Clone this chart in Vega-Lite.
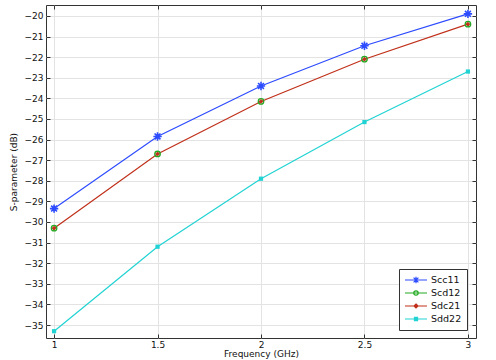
{
  "$schema": "https://vega.github.io/schema/vega-lite/v6.json",
  "width": 430,
  "height": 333,
  "autosize": "none",
  "padding": {"left": 46, "top": 5, "right": 20, "bottom": 22},
  "background": "white",
  "config": {
    "font": "DejaVu Sans",
    "view": {"stroke": "#333", "strokeWidth": 1},
    "axis": {"labelFontSize": 9, "titleFontSize": 9, "labelColor": "#111", "titleColor": "#111", "titleFontWeight": "normal", "domain": false, "tickColor": "#333", "gridColor": "#e3e3e3"}
  },
  "datasets": {"d": [
    {"f": 1, "s": "Scc11", "v": -29.35},
    {"f": 1.5, "s": "Scc11", "v": -25.85},
    {"f": 2, "s": "Scc11", "v": -23.4},
    {"f": 2.5, "s": "Scc11", "v": -21.45},
    {"f": 3, "s": "Scc11", "v": -19.9},
    {"f": 1, "s": "Scd12", "v": -30.3},
    {"f": 1.5, "s": "Scd12", "v": -26.7},
    {"f": 2, "s": "Scd12", "v": -24.15},
    {"f": 2.5, "s": "Scd12", "v": -22.1},
    {"f": 3, "s": "Scd12", "v": -20.4},
    {"f": 1, "s": "Sdc21", "v": -30.3},
    {"f": 1.5, "s": "Sdc21", "v": -26.7},
    {"f": 2, "s": "Sdc21", "v": -24.15},
    {"f": 2.5, "s": "Sdc21", "v": -22.1},
    {"f": 3, "s": "Sdc21", "v": -20.4},
    {"f": 1, "s": "Sdd22", "v": -35.3},
    {"f": 1.5, "s": "Sdd22", "v": -31.2},
    {"f": 2, "s": "Sdd22", "v": -27.9},
    {"f": 2.5, "s": "Sdd22", "v": -25.15},
    {"f": 3, "s": "Sdd22", "v": -22.7}
  ]},
  "data": {"name": "d"},
  "layer": [
    {
      "transform": [{"filter": "datum.s !== 'Scd12'"}],
      "mark": {"type": "line", "strokeWidth": 1.2},
      "encoding": {
        "x": {"field": "f", "type": "quantitative", "scale": {"domain": [0.961, 3.039], "nice": false, "zero": false},
          "axis": {"title": "Frequency (GHz)", "format": "~g", "values": [1, 1.5, 2, 2.5, 3], "tickSize": -4, "labelPadding": 6, "titlePadding": 0, "labelFlush": false}},
        "y": {"field": "v", "type": "quantitative", "scale": {"domain": [-35.63, -19.47], "nice": false, "zero": false},
          "axis": {"title": "S-parameter (dB)", "values": [-35,-34,-33,-32,-31,-30,-29,-28,-27,-26,-25,-24,-23,-22,-21,-20], "tickSize": -4, "labelPadding": 7, "titlePadding": 6}},
        "color": {"field": "s", "type": "nominal",
          "scale": {"domain": ["Scc11", "Scd12", "Sdc21", "Sdd22"], "range": ["#2d4bff", "#22aa22", "#c0301a", "#22d3d3"]},
          "legend": {
            "title": null, "orient": "none", "legendX": 353, "legendY": 264,
            "fillColor": "white", "strokeColor": "#333", "padding": 5, "cornerRadius": 0,
            "labelFontSize": 9.5, "labelColor": "#111", "symbolSize": 484, "rowPadding": 1, "labelOffset": 3, "clipHeight": 12,
            "symbolType": "stroke",
            "encode": {"symbols": {"update": {
              "shape": {"signal": "datum.value === 'Scc11' ? 'M-1,0L1,0M-0.3,0L0.3,0M0,-0.3L0,0.3M-0.22,-0.22L0.22,0.22M-0.22,0.22L0.22,-0.22' : datum.value === 'Scd12' ? 'M-1,0L1,0M0.2,0A0.2,0.2,0,1,1,-0.2,0A0.2,0.2,0,1,1,0.2,0' : datum.value === 'Sdc21' ? 'M-1,0L1,0M0,-0.18L0.18,0L0,0.18L-0.18,0Z' : 'M-1,0L1,0M-0.14,-0.14L0.14,-0.14L0.14,0.14L-0.14,0.14Z'"},
              "fill": {"signal": "datum.value === 'Sdc21' ? '#c0301a' : datum.value === 'Sdd22' ? '#22d3d3' : 'transparent'"},
              "strokeWidth": {"value": 1.2}
            }}}
          }}
      }
    },
    {
      "transform": [{"filter": "datum.s === 'Scc11'"}],
      "mark": {"type": "point", "shape": "M-1,0L1,0M0,-1L0,1M-0.7,-0.7L0.7,0.7M-0.7,0.7L0.7,-0.7", "size": 70, "stroke": "#2d4bff", "strokeWidth": 1.6, "filled": false, "opacity": 1},
      "encoding": {"x": {"field": "f", "type": "quantitative", "axis": null}, "y": {"field": "v", "type": "quantitative", "axis": null}}
    },
    {
      "transform": [{"filter": "datum.s === 'Scd12'"}],
      "mark": {"type": "point", "shape": "circle", "size": 30, "stroke": "#22aa22", "strokeWidth": 1.3, "filled": false, "opacity": 1},
      "encoding": {"x": {"field": "f", "type": "quantitative", "axis": null}, "y": {"field": "v", "type": "quantitative", "axis": null}}
    },
    {
      "transform": [{"filter": "datum.s === 'Sdc21'"}],
      "mark": {"type": "point", "shape": "diamond", "size": 14, "fill": "#c0301a", "stroke": "#c0301a", "strokeWidth": 1, "filled": true, "opacity": 1},
      "encoding": {"x": {"field": "f", "type": "quantitative", "axis": null}, "y": {"field": "v", "type": "quantitative", "axis": null}}
    },
    {
      "transform": [{"filter": "datum.s === 'Sdd22'"}],
      "mark": {"type": "point", "shape": "square", "size": 18, "fill": "#22d3d3", "filled": true, "opacity": 1},
      "encoding": {"x": {"field": "f", "type": "quantitative", "axis": null}, "y": {"field": "v", "type": "quantitative", "axis": null}}
    },
    {
      "mark": {"type": "rule", "opacity": 0},
      "encoding": {
        "x": {"field": "f", "type": "quantitative", "axis": {"orient": "top", "title": null, "labels": false, "grid": false, "values": [1, 1.5, 2, 2.5, 3], "tickSize": -4}},
        "y": {"field": "v", "type": "quantitative", "axis": {"orient": "right", "title": null, "labels": false, "grid": false, "values": [-35,-34,-33,-32,-31,-30,-29,-28,-27,-26,-25,-24,-23,-22,-21,-20], "tickSize": -4}}
      }
    }
  ],
  "resolve": {"axis": {"x": "independent", "y": "independent"}}
}
